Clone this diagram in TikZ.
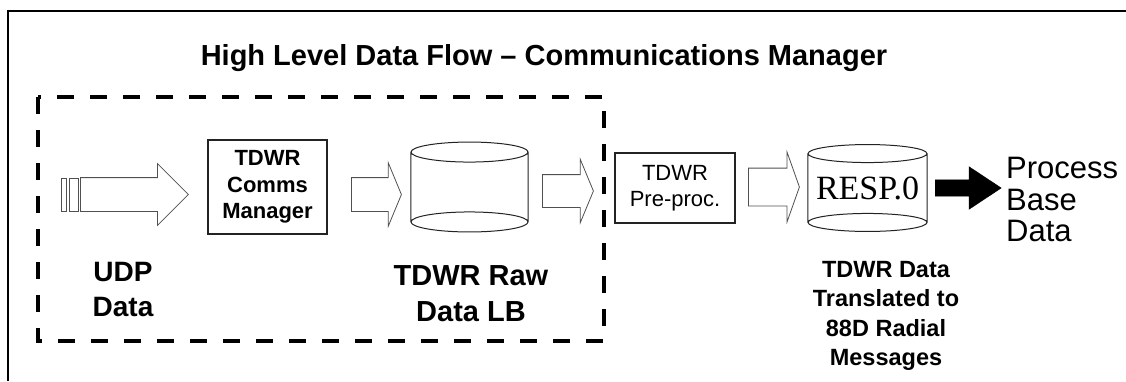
\documentclass[tikz,border=0pt]{standalone}
\usepackage{fontspec}
\setmainfont{Liberation Sans}
\newfontfamily\respfont{Liberation Serif}
\usepackage{tikz}
\usetikzlibrary{positioning, shapes.arrows}
\definecolor{ink}{RGB}{35,35,35}
\definecolor{edge}{RGB}{80,80,80}

\begin{document}
\begin{tikzpicture}[x=1pt, y=-1pt,
    procbox/.style={draw=ink, line width=1.1pt, inner sep=0pt, align=center},
    flow/.style={single arrow, draw=edge, line width=0.8pt, fill=white, anchor=tail,
                 inner xsep=0pt, minimum width=0pt},
    caption/.style={inner sep=0pt, align=center, anchor=north},
    cyl/.style={draw=ink, line width=1pt}]
  \useasboundingbox (0,0) rectangle (1126,381);
  \fill[white] (0,0) rectangle (1126,381);

  % frame and title
  \draw[line width=2.4pt] (1126,11) -| (8,381);
  \node[anchor=base, inner sep=0pt, font=\bfseries\fontsize{29}{34}\selectfont] (title) at (544,65)
       {High Level Data Flow -- Communications Manager};

  % comms manager part
  \draw[line width=4.5pt, dash pattern=on 17pt off 16pt] (38,97) rectangle (604,341);
  \draw[edge, line width=0.8pt] (61,178) rectangle (66,211) (69,178) rectangle (78,211);
  \node[flow, inner ysep=16.5pt, single arrow head extend=14pt, single arrow tip angle=90,
        minimum height=108pt] (inflow) at (80,194.5) {};
  \node[procbox, minimum width=119pt, minimum height=94pt,
        font=\bfseries\fontsize{22}{26.5}\selectfont] (comms) at (267.5,187)
       {TDWR\\Comms\\Manager};
  \node[flow, inner ysep=16.5pt, single arrow head extend=15pt, single arrow tip angle=135,
        minimum height=50pt] (torawlb) at (351,194.5) {};
  \node[inner sep=0pt, minimum width=117pt, minimum height=69.5pt] (rawlb) at (469.5,187) {};
  \draw[cyl] (rawlb.north west) -- (rawlb.south west) (rawlb.north east) -- (rawlb.south east)
             (rawlb.north) ellipse [x radius=58.5, y radius=10]
             (rawlb.south) ellipse [x radius=58.5, y radius=10];
  \node[flow, inner ysep=16pt, single arrow head extend=15.5pt, single arrow tip angle=135,
        minimum height=51pt] (topre) at (542,191) {};
  \node[caption, font=\bfseries\fontsize{28}{35}\selectfont] (udplbl) at (123,262)
       {UDP\\Data};
  \node[caption, font=\bfseries\fontsize{29}{36}\selectfont] (rawlbl) at (471,265)
       {TDWR Raw\\Data LB};

  % translation to radial messages
  \node[procbox, minimum width=120pt, minimum height=70pt,
        font=\fontsize{22}{26}\selectfont] (pre) at (675,188)
       {TDWR\\Pre-proc.};
  \node[flow, inner ysep=18.5pt, single arrow head extend=16pt, single arrow tip angle=141,
        minimum height=51pt] (toresp) at (748,187) {};
  \node[inner sep=0pt, minimum width=119pt, minimum height=68.5pt,
        font=\respfont\fontsize{34}{36}\selectfont] (resp) at (867.5,188) {RESP.0};
  \draw[cyl] (resp.north west) -- (resp.south west) (resp.north east) -- (resp.south east)
             (resp.north) ellipse [x radius=59.5, y radius=9]
             (resp.south) ellipse [x radius=59.5, y radius=9];
  \node[caption, font=\bfseries\fontsize{23.5}{29.5}\selectfont] (resplbl) at (886,261)
       {TDWR Data\\Translated to\\88D Radial\\Messages};
  \node[single arrow, draw=black, fill=black, anchor=tail, inner xsep=0pt, inner ysep=8pt,
        minimum width=0pt, single arrow head extend=13pt, single arrow tip angle=67,
        minimum height=66pt] (outflow) at (935,188) {};
  \node[inner sep=0pt, align=left, anchor=north west,
        font=\fontsize{31}{31.5}\selectfont] (base) at (1006,157)
       {Process\\Base\\Data};
\end{tikzpicture}
\end{document}
